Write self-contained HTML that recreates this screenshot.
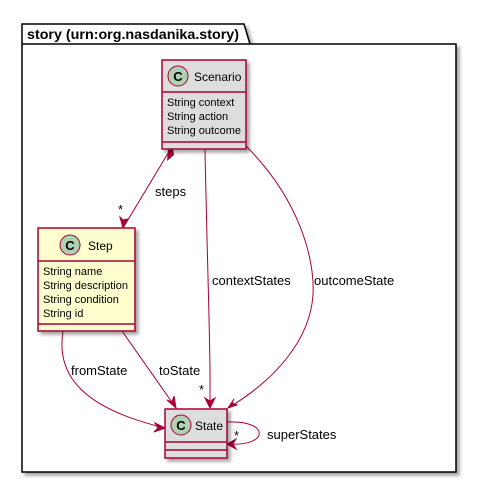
<!DOCTYPE html>
<html><head><style>
body{margin:0;background:#fff;}
svg{display:block;font-family:"Liberation Sans",sans-serif;}
</style></head><body>
<svg width="477" height="484" xmlns="http://www.w3.org/2000/svg">
<defs>
<filter id="sh" x="-10%" y="-10%" width="130%" height="130%"><feDropShadow dx="3" dy="3" stdDeviation="1.5" flood-color="#000" flood-opacity="0.35"/></filter>
</defs>
<g filter="url(#sh)">
<polygon points="22,24 244,24 250,44 456,44 456,472 22,472" fill="#fff" stroke="#000" stroke-width="1.5"/>
</g>
<line x1="22" y1="44" x2="250" y2="44" stroke="#000" stroke-width="1.5"/>
<text x="27" y="39" font-size="14" font-weight="bold" textLength="212" lengthAdjust="spacingAndGlyphs">story (urn:org.nasdanika.story)</text>

<g stroke="#A80036" fill="none" stroke-width="1">
<path d="M170,150 L123,228"/>
<path d="M205,150 C207,250 210,340 210,375 C210,390 210,400 210,408"/>
<path d="M246,146 C300,200 315,260 313,295 C310,340 275,380 228,408"/>
<path d="M63,331 C55,380 90,410 165,428"/>
<path d="M122,331 L176,408"/>
<path d="M227,422 C270,420 270,447 227,444"/>
</g>
<g fill="#A80036" stroke="#A80036">
<polygon points="123,228 120,217 123,220 128,219"/>
<polygon points="210,408 205,398 210,401 215,398"/>
<polygon points="228,408 234,399 232,403 237,405"/>
<polygon points="165,428 155,423 158,428 154,432"/>
<polygon points="176,408 167,400 172,402 174,396"/>
<polygon points="227,444 236,439 233,444 236,449"/>
</g>
<path d="M168,150 L173,149 L174,155 L167,161 Z" fill="#A80036"/>

<g font-size="13" fill="#000">
<text x="155" y="196">steps</text>
<text x="118" y="214">*</text>
<text x="212" y="285">contextStates</text>
<text x="314" y="285">outcomeState</text>
<text x="199" y="394">*</text>
<text x="71" y="375">fromState</text>
<text x="159" y="375">toState</text>
<text x="234" y="440">*</text>
<text x="267" y="439">superStates</text>
</g>

<g filter="url(#sh)"><rect x="162" y="60" width="84" height="89" fill="#DDDDDD" stroke="#A80036" stroke-width="1.5"/></g>
<line x1="162" y1="92" x2="246" y2="92" stroke="#A80036" stroke-width="1.5"/>
<line x1="162" y1="142" x2="246" y2="142" stroke="#A80036" stroke-width="1.5"/>
<circle cx="178" cy="76" r="10" fill="#ADD1B2" stroke="#A80036"/>
<text x="178" y="81" font-size="13" font-weight="bold" text-anchor="middle">C</text>
<text x="194" y="81" font-size="12">Scenario</text>
<g font-size="11"><text x="167" y="106">String context</text><text x="167" y="120">String action</text><text x="167" y="134">String outcome</text></g>

<g filter="url(#sh)"><rect x="38" y="228" width="97" height="103" fill="#FEFECE" stroke="#A80036" stroke-width="1.5"/></g>
<line x1="38" y1="261" x2="135" y2="261" stroke="#A80036" stroke-width="1.5"/>
<line x1="38" y1="324" x2="135" y2="324" stroke="#A80036" stroke-width="1.5"/>
<circle cx="70" cy="245" r="10" fill="#ADD1B2" stroke="#A80036"/>
<text x="70" y="250" font-size="13" font-weight="bold" text-anchor="middle">C</text>
<text x="88" y="250" font-size="12">Step</text>
<g font-size="11"><text x="43" y="275">String name</text><text x="43" y="289">String description</text><text x="43" y="303">String condition</text><text x="43" y="317">String id</text></g>

<g filter="url(#sh)"><rect x="165" y="409" width="62" height="49" fill="#DDDDDD" stroke="#A80036" stroke-width="1.5"/></g>
<line x1="165" y1="442" x2="227" y2="442" stroke="#A80036" stroke-width="1.5"/>
<line x1="165" y1="450" x2="227" y2="450" stroke="#A80036" stroke-width="1.5"/>
<circle cx="181" cy="425" r="10" fill="#ADD1B2" stroke="#A80036"/>
<text x="181" y="430" font-size="13" font-weight="bold" text-anchor="middle">C</text>
<text x="195" y="430" font-size="12">State</text>
</svg>
</body></html>
